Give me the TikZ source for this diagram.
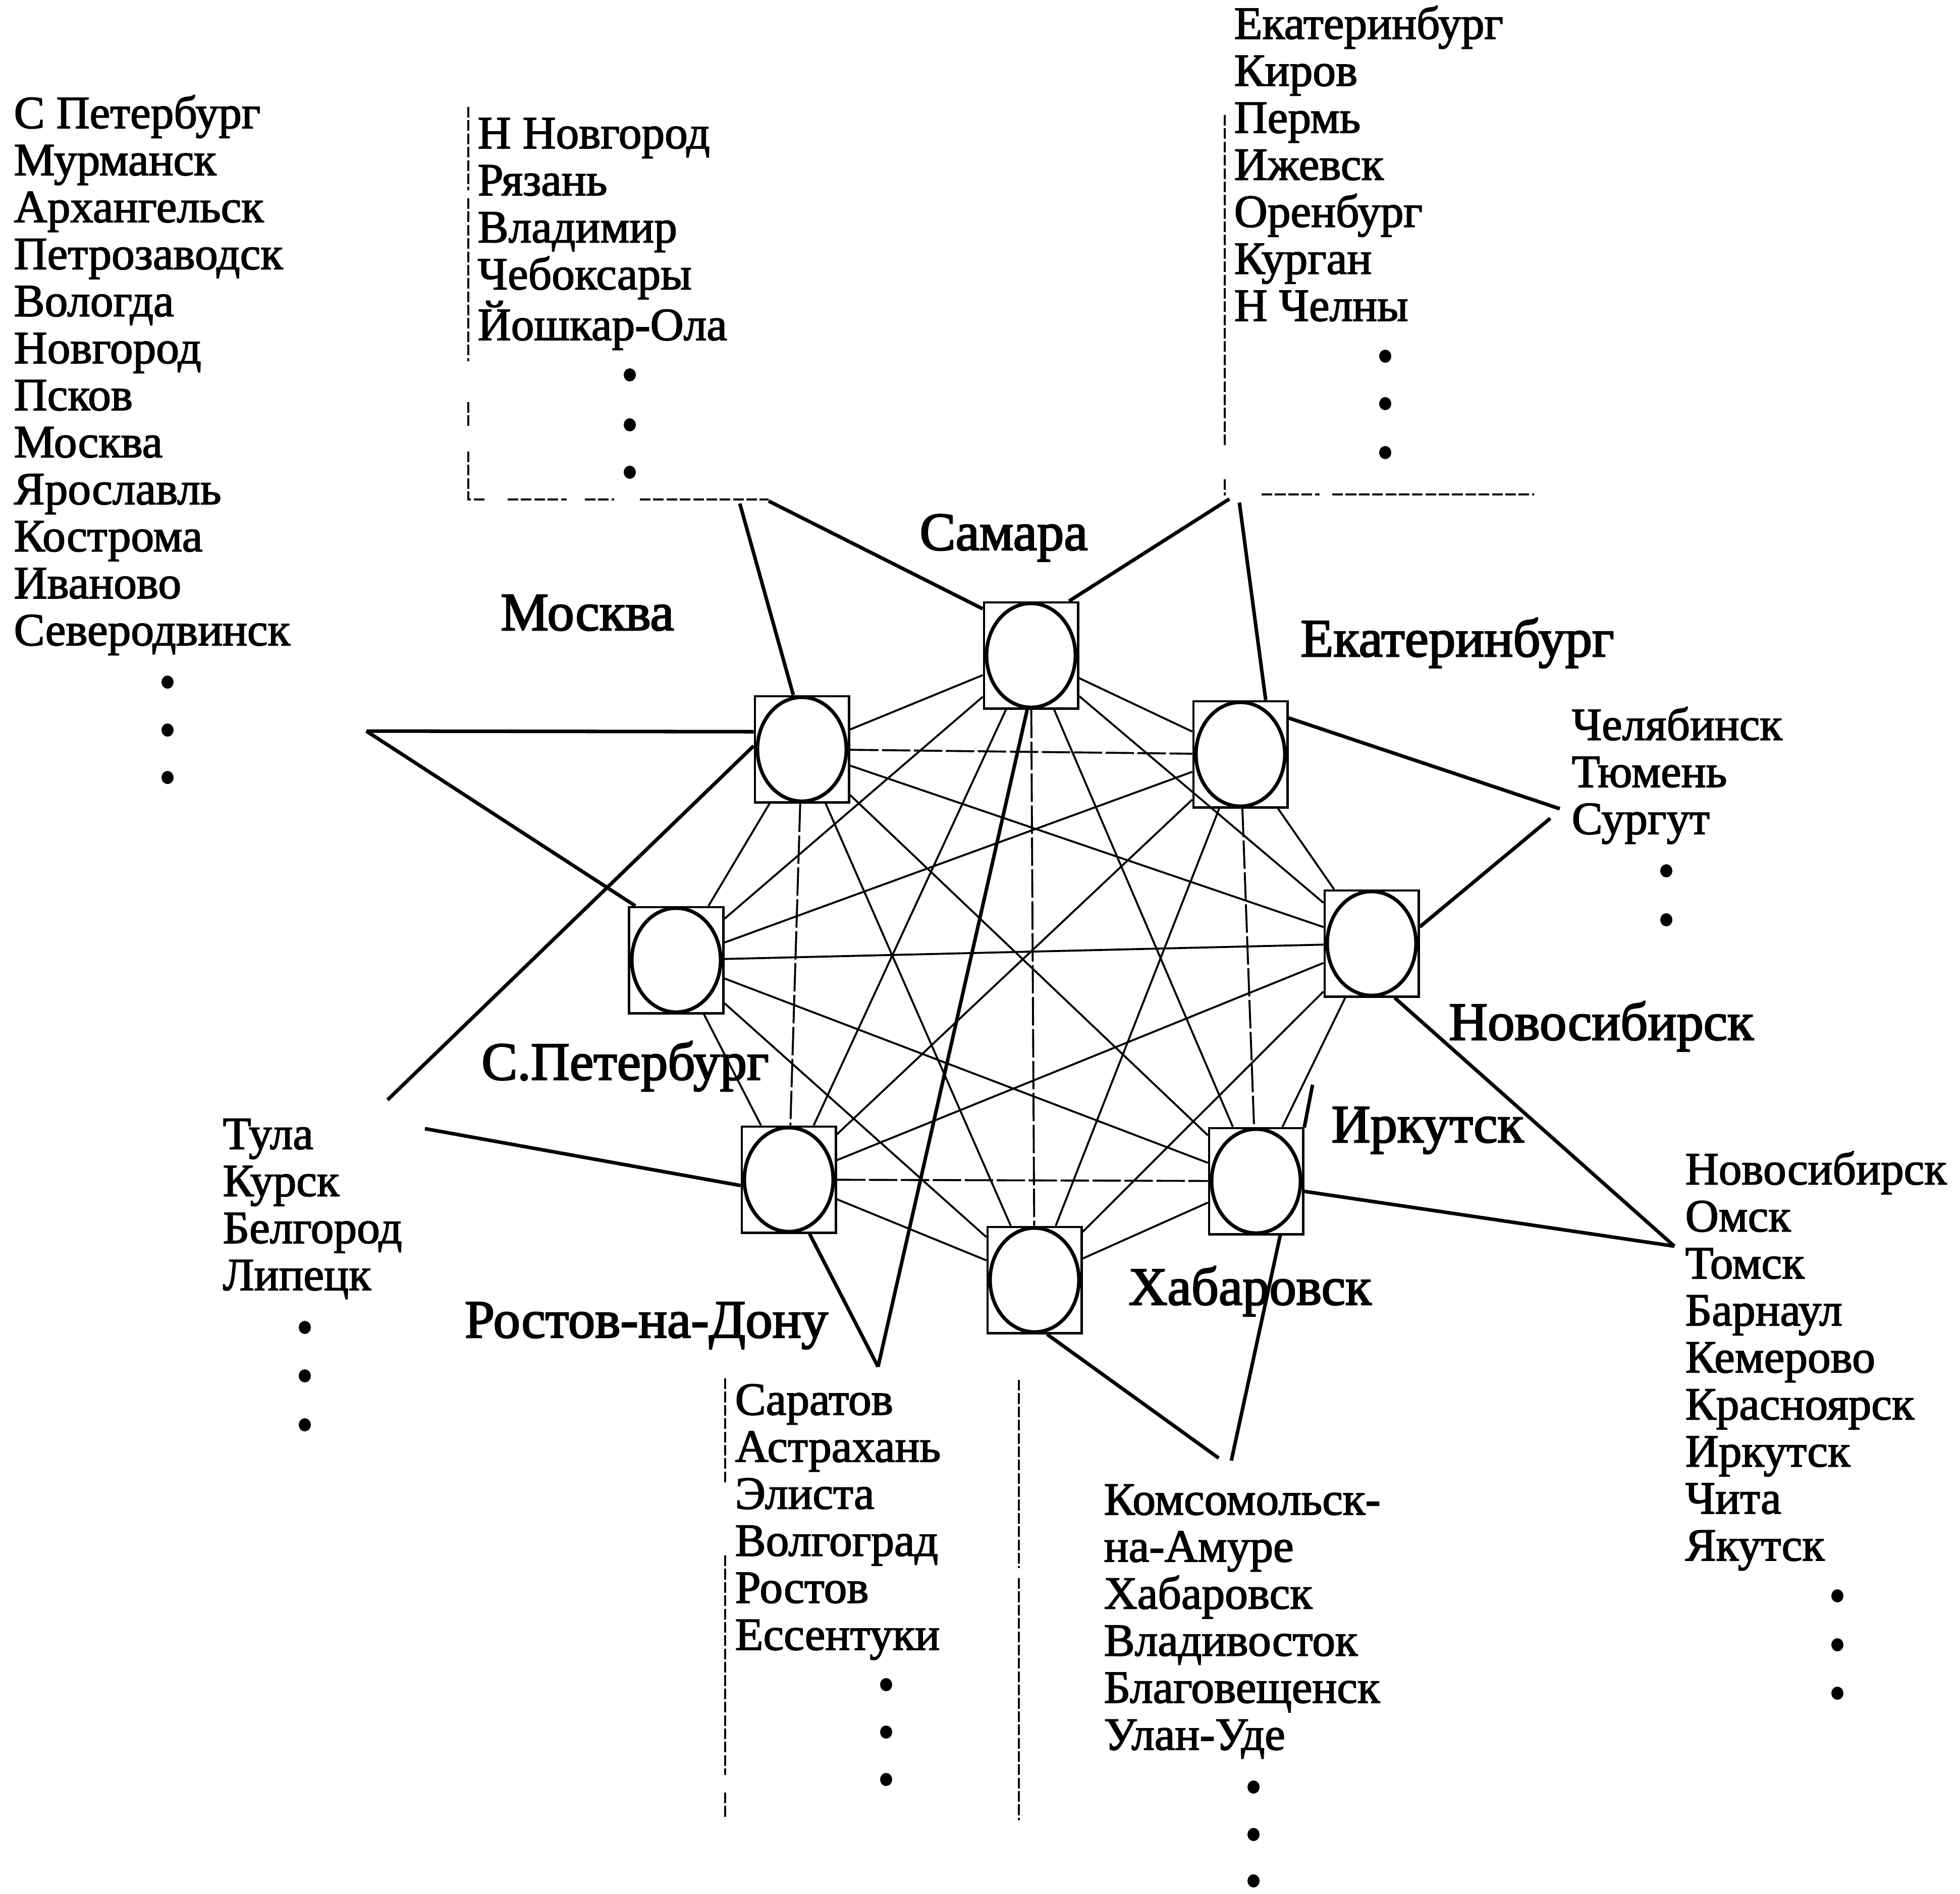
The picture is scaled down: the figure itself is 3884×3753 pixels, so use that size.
\documentclass[tikz,border=0pt]{standalone}
\usepackage{fontspec}
\setmainfont{Liberation Serif}
\newfontfamily\listfont[FakeBold=2]{Liberation Serif}
\newfontfamily\labfont[FakeBold=2.5]{Liberation Serif}
\begin{document}
\begin{tikzpicture}[x=0.01cm,y=-0.01cm,
  city/.style={draw,line width=1.4pt,fill=white,minimum width=1.86cm,minimum height=2.1cm,inner sep=0pt},
  oval/.style={line width=2pt},
  link/.style={line width=1.1pt},
  linkd/.style={line width=1.1pt,dash pattern=on 16pt off 2pt},
  feed/.style={line width=2pt},
  bracket/.style={line width=0.9pt,dash pattern=on 6pt off 1.5pt},
  lst/.style={anchor=base west,align=left,inner sep=0pt,font=\listfont\fontsize{26}{26.5}\selectfont},
  lab/.style={anchor=base,inner sep=0pt,font=\labfont\fontsize{30.3}{32}\selectfont},
  dot/.style={fill=black}
]
\useasboundingbox (0,0) rectangle (3884,3753);
\fill[white] (0,0) rectangle (3884,3753);

% city nodes
\node[city] (S) at (2043,1299) {};
\node[city] (M) at (1589,1485) {};
\node[city] (E) at (2458,1495) {};
\node[city] (N) at (2718,1870) {};
\node[city] (P) at (1340,1903) {};
\node[city] (R) at (1563,2338) {};
\node[city] (I) at (2489,2341) {};
\node[city] (H) at (2050,2537) {};
\foreach \n in {S,M,E,N,P,R,I,H}
  \draw[oval] (\n.center) ellipse[x radius=0.88cm,y radius=1.03cm];

% complete graph
\draw[link] (S) -- (M);
\draw[link] (S) -- (E);
\draw[link] (S) -- (N);
\draw[link] (S) -- (P);
\draw[link] (S) -- (R);
\draw[link] (S) -- (I);
\draw[linkd] (S) -- (H);
\draw[linkd] (M) -- (E);
\draw[link] (M) -- (N);
\draw[link] (M) -- (P);
\draw[linkd] (M) -- (R);
\draw[link] (M) -- (I);
\draw[link] (M) -- (H);
\draw[link] (E) -- (N);
\draw[link] (E) -- (P);
\draw[link] (E) -- (R);
\draw[linkd] (E) -- (I);
\draw[link] (E) -- (H);
\draw[link] (N) -- (P);
\draw[link] (N) -- (R);
\draw[link] (N) -- (I);
\draw[link] (N) -- (H);
\draw[link] (P) -- (R);
\draw[link] (P) -- (I);
\draw[link] (P) -- (H);
\draw[linkd] (R) -- (I);
\draw[link] (R) -- (H);
\draw[link] (I) -- (H);

% free ends of feeder lines
\coordinate (A1) at (1466,998);
\coordinate (B1) at (1523,993);
\coordinate (C1) at (2436,989);
\coordinate (D1) at (2456,996);
\coordinate (E1) at (3091,1603);
\coordinate (F1) at (3072,1622);
\coordinate (G1) at (3318,2470);
\coordinate (I1) at (2415,2890);
\coordinate (J1) at (2440,2895);
\coordinate (J2) at (2601,2150);
\coordinate (K1) at (1740,2709);
\coordinate (L1) at (842,2237);
\coordinate (L2) at (768,2180);
\coordinate (M1) at (726,1449);

% feeder lines
\draw[feed] (A1) -- (M.99);
\draw[feed] (B1) -- (S.136);
\draw[feed] (C1) -- (S.55);
\draw[feed] (D1) -- (E.65);
\draw[feed] (E1) -- (E.37);
\draw[feed] (F1) -- (N.19);
\draw[feed] (G1) -- (N.-67);
\draw[feed] (G1) -- (I.-12);
\draw[feed] (I1) -- (H.-77);
\draw[feed] (J1) -- (I.-66);
\draw[feed] (I.48) -- (J2);
\draw[feed] (K1) -- (R.-69);
\draw[feed] (K1) -- (S.-94);
\draw[feed] (L1) -- (R.187);
\draw[feed] (L2) -- (M.176);
\draw[feed] (M1) -- (M.160);
\draw[feed] (M1) -- (P.127);

% brackets
\draw[bracket] (928,212) -- (928,377) (928,393) -- (928,716) (928,797) -- (928,846) (928,895) -- (928,990) -- (964,990)
  (1006,990) -- (1123,990) (1159,990) -- (1217,990) (1268,990) -- (1523,990);
\draw[bracket] (2427,228) -- (2427,885) (2427,950) -- (2427,982);
\draw[bracket] (2500,980) -- (2615,980) (2640,980) -- (3040,980);
\draw[bracket] (1437,2732) -- (1437,2943) (1437,3083) -- (1437,3518) (1437,3553) -- (1437,3602);
\draw[bracket] (2019,2735) -- (2019,3108) (2019,3128) -- (2019,3608);

% city labels
\node[lab] (tS) at (1989,1090) {Самара};
\node[lab] (tM) at (1164,1249) {Москва};
\node[lab] (tE) at (2888,1301) {Екатеринбург};
\node[lab] (tN) at (3173,2061) {Новосибирск};
\node[lab] (tP) at (1239,2140) {С.Петербург};
\node[lab] (tI) at (2829,2264) {Иркутск};
\node[lab] (tR) at (1281,2651) {Ростов-на-Дону};
\node[lab] (tH) at (2477,2586) {Хабаровск};

% lists (anchor = baseline of the last line)
\node[lst] (lSPb) at (27,1279) {С Петербург\\Мурманск\\Архангельск\\Петрозаводск\\Вологда\\Новгород\\Псков\\Москва\\Ярославль\\Кострома\\Иваново\\Северодвинск};
\node[lst] (lNN) at (946,674) {Н Новгород\\Рязань\\Владимир\\Чебоксары\\Йошкар-Ола};
\node[lst] (lEk) at (2445,636) {Екатеринбург\\Киров\\Пермь\\Ижевск\\Оренбург\\Курган\\Н Челны};
\node[lst] (lCh) at (3114,1653) {Челябинск\\Тюмень\\Сургут};
\node[lst] (lNs) at (3339,3093) {Новосибирск\\Омск\\Томск\\Барнаул\\Кемерово\\Красноярск\\Иркутск\\Чита\\Якутск};
\node[lst] (lKm) at (2187,3468) {Комсомольск-\\на-Амуре\\Хабаровск\\Владивосток\\Благовещенск\\Улан-Уде};
\node[lst] (lSr) at (1456,3270) {Саратов\\Астрахань\\Элиста\\Волгоград\\Ростов\\Ессентуки};
\node[lst] (lTl) at (441,2557) {Тула\\Курск\\Белгород\\Липецк};

% continuation dots
\foreach \x/\y in {332/1352,332/1447,332/1541,
                   1248/743,1248/842,1248/936,
                   2745/706,2745/800,2745/897,
                   3302/1726,3302/1823,
                   3641/3163,3641/3260,3641/3356,
                   2484/3542,2484/3636,2484/3728,
                   1756/3339,1756/3433,1756/3527,
                   604/2631,604/2727,604/2824}
  \fill[dot] (\x,\y) ellipse[x radius=0.12cm,y radius=0.13cm];
\end{tikzpicture}
\end{document}
